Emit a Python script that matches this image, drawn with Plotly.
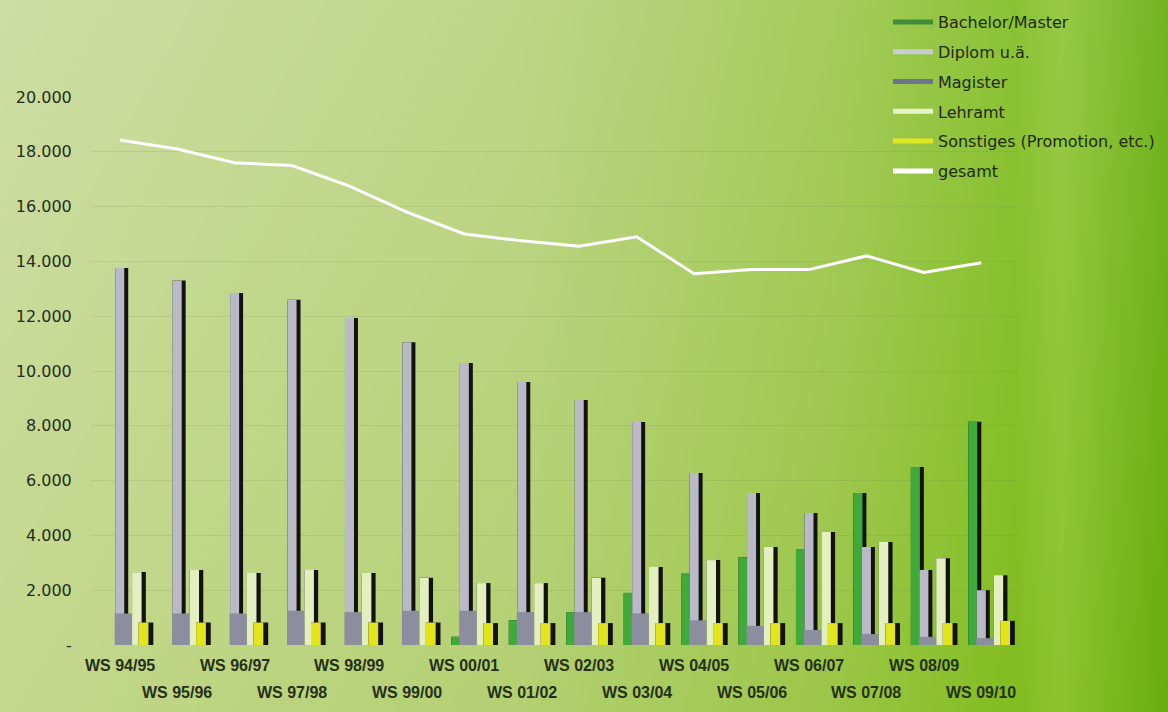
import zlib, struct, base64
import numpy as np
import plotly.graph_objects as go

# ---------------- data ----------------
semesters = ["WS 94/95", "WS 95/96", "WS 96/97", "WS 97/98", "WS 98/99", "WS 99/00",
             "WS 00/01", "WS 01/02", "WS 02/03", "WS 03/04", "WS 04/05", "WS 05/06",
             "WS 06/07", "WS 07/08", "WS 08/09", "WS 09/10"]
bachelor = [0, 0, 0, 0, 0, 0, 300, 900, 1200, 1900, 2600, 3200, 3500, 5550, 6500, 8150]
diplom = [13760, 13300, 12850, 12600, 11930, 11050, 10290, 9600, 8940, 8140, 6280, 5550, 4820, 3580, 2740, 2000]
magister = [1150, 1150, 1150, 1250, 1200, 1250, 1250, 1200, 1200, 1150, 900, 700, 550, 400, 300, 250]
lehramt = [2660, 2740, 2630, 2740, 2630, 2450, 2260, 2260, 2450, 2850, 3100, 3580, 4120, 3760, 3170, 2550]
sonstiges = [820, 820, 820, 820, 820, 820, 800, 800, 800, 800, 800, 800, 800, 800, 800, 880]
gesamt = [18430, 18100, 17600, 17500, 16750, 15800, 15000, 14750, 14550, 14900, 13550, 13700, 13700, 14200, 13600, 13950]

y_tickvals = [0, 2000, 4000, 6000, 8000, 10000, 12000, 14000, 16000, 18000, 20000]
y_ticktext = ["-", "2.000", "4.000", "6.000", "8.000", "10.000", "12.000", "14.000", "16.000", "18.000", "20.000"]

names = ["Bachelor/Master", "Diplom u.ä.", "Magister", "Lehramt", "Sonstiges (Promotion, etc.)", "gesamt"]

# ---------------- background gradient ----------------
W, H = 1168, 712
L, R, T, B = 91, 150, 97, 67
X_MAX = 15.5 + 8 / 57.45


def png_uri(pix):
    h, w, _ = pix.shape
    raw = b"".join(b"\x00" + pix[y].tobytes() for y in range(h))

    def chunk(t, d):
        c = struct.pack(">I", len(d)) + t + d
        return c + struct.pack(">I", zlib.crc32(t + d) & 0xffffffff)

    png = (b"\x89PNG\r\n\x1a\n" + chunk(b"IHDR", struct.pack(">IIBBBBB", w, h, 8, 2, 0, 0, 0))
           + chunk(b"IDAT", zlib.compress(raw, 9)) + chunk(b"IEND", b""))
    return "data:image/png;base64," + base64.b64encode(png).decode()


gw, gh = 292, 178
xs = np.linspace(0, 1, gw)
ys = np.linspace(0, 1, gh)
stops_t = [0.0, 0.45, 0.72, 0.87, 0.91, 1.0]
stops_c = np.array([[206, 222, 164], [190, 214, 136], [165, 204, 92], [140, 195, 54], [152, 202, 70], [116, 180, 36]], float)
row = np.stack([np.interp(xs, stops_t, stops_c[:, k]) for k in range(3)], axis=1)
pix = np.zeros((gh, gw, 3))
for j, yv in enumerate(ys):
    pix[j] = row - yv * np.array([10, 6, 22])
pix = np.clip(pix, 0, 255).astype(np.uint8)
bg_uri = png_uri(pix)

# ---------------- figure ----------------
fig = go.Figure()

SHADOW = "#121212"


def add_bar(vals, color, off, wid, shadow_wid=None):
    if shadow_wid:
        fig.add_trace(go.Bar(x=semesters, y=vals, offset=off, width=shadow_wid,
                             marker=dict(color=SHADOW, line=dict(width=0)),
                             showlegend=False, hoverinfo="skip"))
    fig.add_trace(go.Bar(x=semesters, y=vals, offset=off, width=wid,
                         marker=dict(color=color, line=dict(width=0)),
                         showlegend=False))


add_bar(bachelor, "#3faa3a", -0.226, 0.157, 0.226)
add_bar(diplom, "#b9bac6", -0.078, 0.157, 0.226)
add_bar(lehramt, "#e3efbf", 0.215, 0.166, 0.24)
add_bar(magister, "#8c8d9e", -0.087, 0.30)
add_bar(sonstiges, "#e2e51c", 0.33, 0.17, 0.255)

fig.add_trace(go.Scatter(x=semesters, y=gesamt, mode="lines",
                         line=dict(color="white", width=3), showlegend=False))

# legend entries (line symbols)
leg_colors = ["#3f8d36", "#c9ccd2", "#6b7590", "#e7f3c9", "#dfe622", "#ffffff"]
for i, (n, c) in enumerate(zip(names, leg_colors)):
    fig.add_trace(go.Scatter(x=[None], y=[None], mode="lines", name=n,
                             line=dict(color=c, width=5), legendgroup=f"g{i}"))

# x labels in two staggered rows
for i, s in enumerate(semesters):
    fig.add_annotation(x=s, y=0, xref="x", yref="paper", text=s, showarrow=False,
                       yanchor="middle", yshift=-20 if i % 2 == 0 else -47,
                       font=dict(family="Liberation Sans", size=16, color="#26301a", weight="bold"))

PW, PH = W - L - R, H - T - B
fig.add_layout_image(dict(source=bg_uri, xref="paper", yref="paper",
                          x=-L / PW, y=1 + T / PH,
                          sizex=W / PW, sizey=H / PH,
                          xanchor="left", yanchor="top", sizing="stretch", layer="below"))

fig.update_layout(
    width=W, height=H,
    margin=dict(l=L, r=R, t=T, b=B, autoexpand=False),
    barmode="overlay",
    paper_bgcolor="#b4d27c",
    plot_bgcolor="rgba(0,0,0,0)",
    xaxis=dict(range=[-0.5, X_MAX], showticklabels=False, showgrid=False, zeroline=False,
               showline=False, ticks=""),
    yaxis=dict(range=[0, 20000], tickvals=y_tickvals, ticktext=y_ticktext,
               showgrid=True, gridcolor="rgba(110,130,70,0.15)", gridwidth=1,
               zeroline=False, showline=False, ticks="outside", ticklen=15,
               tickcolor="rgba(0,0,0,0)",
               tickfont=dict(family="DejaVu Sans", size=16, color="#262c1e")),
    legend=dict(xref="container", yref="container", x=888 / W, y=1 - 5 / H,
                xanchor="left", yanchor="top", bgcolor="rgba(0,0,0,0)",
                traceorder="grouped", tracegroupgap=6, itemwidth=40,
                font=dict(family="DejaVu Sans", size=16, color="#1f2a12")),
    showlegend=True,
)

fig.write_html("out.html")
